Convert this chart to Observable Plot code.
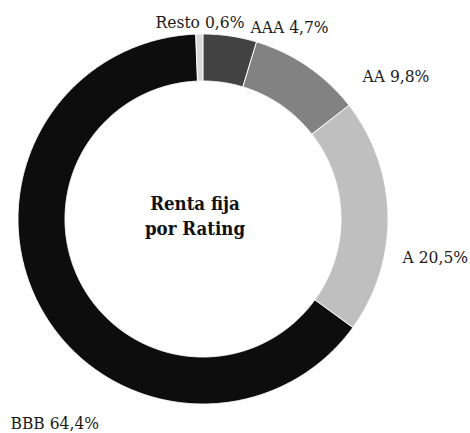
<!DOCTYPE html>
<html>
<head>
<meta charset="utf-8">
<script src="https://cdn.jsdelivr.net/npm/d3@7"></script>
<script src="https://cdn.jsdelivr.net/npm/@observablehq/plot@0.6"></script>
<style>
  html, body { margin: 0; padding: 0; background: #fff; }
  #chart svg { display: block; }
</style>
</head>
<body>
<div id="chart"></div>
<script>
// ---- data ----
const categories = ["AAA", "AA", "A", "BBB", "Resto"];
const values = [4.7, 9.8, 20.5, 64.4, 0.6];
const labels = ["AAA 4,7%", "AA 9,8%", "A 20,5%", "BBB 64,4%", "Resto 0,6%"];
const colors = ["#434343", "#828282", "#bfbfbf", "#0d0d0d", "#d9d9d9"];
const centerTitle = "Renta fija\npor Rating";

// ---- layout ----
const W = 470, H = 433;
const cx = 202.5, cy = 218.5, R = 185;   // ring centre and outer radius (px)
const inner = 138 / 185;                 // inner radius fraction
const FONT = "'DejaVu Serif Condensed', 'DejaVu Serif', serif";
// label anchor points (px, start-anchored, vertical middle)
const labelPx = {
  "AAA": [250, 26.5],
  "AA": [362, 75.5],
  "A": [402, 256.5],
  "BBB": [10, 422.5],
  "Resto": [155, 21.5]
};

// ---- geometry from data ----
const arcs = d3.pie().sort(null).value(d => d)(values);
const pts = [];
arcs.forEach((a, i) => {
  const cat = categories[i];
  const n = Math.max(2, Math.ceil((a.endAngle - a.startAngle) / 0.005));
  for (let k = 0; k <= n; k++) {
    const t = a.startAngle + (a.endAngle - a.startAngle) * k / n;
    pts.push({cat, x: Math.sin(t), y: Math.cos(t)});
  }
  for (let k = n; k >= 0; k--) {
    const t = a.startAngle + (a.endAngle - a.startAngle) * k / n;
    pts.push({cat, x: inner * Math.sin(t), y: inner * Math.cos(t)});
  }
});

const labelData = categories.map((c, i) => ({
  text: labels[i],
  x: (labelPx[c][0] - cx) / R,
  y: (cy - labelPx[c][1]) / R
}));

const chart = Plot.plot({
  width: W,
  height: H,
  margin: 0,
  style: {fontFamily: FONT, background: "#fff"},
  x: {domain: [-cx / R, (W - cx) / R], axis: null},
  y: {domain: [-(H - cy) / R, cy / R], axis: null},
  color: {domain: categories, range: colors},
  marks: [
    Plot.line(pts, {x: "x", y: "y", z: "cat", fill: "cat", stroke: "white", strokeWidth: 1, curve: "linear-closed"}),
    Plot.text(labelData, {x: "x", y: "y", text: "text", textAnchor: "start", fontSize: 17.3, fill: "#1a1a1a"}),
    Plot.text([centerTitle], {x: -8 / R, y: 4.5 / R, text: d => d, fontSize: 18.5, fontWeight: "bold", lineHeight: 1.36, fill: "#111"})
  ]
});
document.getElementById("chart").append(chart);
</script>
</body>
</html>
